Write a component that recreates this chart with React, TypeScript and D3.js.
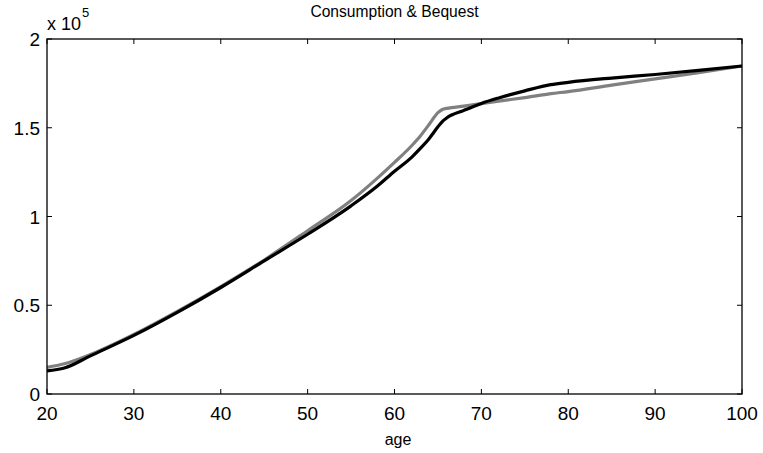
import React from "react";
import * as d3 from "d3";

const ages = [20, 22, 25, 30, 35, 40, 45, 50, 55, 58, 60, 62, 63, 64, 65, 65.5, 66, 68, 70, 72, 75, 78, 80, 85, 90, 95, 100];
const blackSeries = [13000, 14600, 21500, 33000, 46000, 60000, 75000, 90000, 106000, 117000, 125500, 133500, 138500, 144000, 150500, 153500, 155500, 159800, 163700, 166800, 170800, 174300, 175600, 178000, 180000, 182300, 184800];
const graySeries = [15000, 17000, 22200, 33500, 46500, 60500, 75500, 92000, 109000, 121500, 130500, 140000, 145500, 152000, 158500, 160300, 160900, 162200, 163600, 165000, 167000, 169200, 170400, 174000, 177500, 181000, 184800];
const xTicks = [20, 30, 40, 50, 60, 70, 80, 90, 100];
const yTicks = [0, 0.5, 1, 1.5, 2];
const yTickLabels = ["0", "0.5", "1", "1.5", "2"];

const W = 763, H = 453;
const L = 47, R = 742, T = 39, B = 394;
const FONT = "'Liberation Sans', Arial, Helvetica, sans-serif";

export default function App() {
  const x = d3.scaleLinear().domain([20, 100]).range([L, R]);
  const y = d3.scaleLinear().domain([0, 200000]).range([B, T]);
  const line = d3
    .line<number>()
    .x((_, i) => x(ages[i]))
    .y((d) => y(d))
    .curve(d3.curveMonotoneX);
  const tl = 5;
  return (
    <svg width={W} height={H} style={{ position: "absolute", left: 0, top: 0, background: "#fff" }}>
      <rect x={0} y={0} width={W} height={H} fill="#fff" />
      <path d={line(graySeries) || ""} fill="none" stroke="#808080" strokeWidth={3.2} strokeLinejoin="round" />
      <path d={line(blackSeries) || ""} fill="none" stroke="#000" strokeWidth={3.2} strokeLinejoin="round" />
      <rect x={L} y={T} width={R - L} height={B - T} fill="none" stroke="#000" strokeWidth={1.3} />
      {xTicks.map((t) => (
        <g key={"x" + t}>
          <line x1={x(t)} x2={x(t)} y1={B} y2={B - tl} stroke="#000" strokeWidth={1} />
          <line x1={x(t)} x2={x(t)} y1={T} y2={T + tl} stroke="#000" strokeWidth={1} />
          <text x={x(t)} y={420} textAnchor="middle" fontFamily={FONT} fontSize={19} fill="#000">
            {t}
          </text>
        </g>
      ))}
      {yTicks.map((t, i) => (
        <g key={"y" + t}>
          <line x1={L} x2={L + tl} y1={y(t * 1e5)} y2={y(t * 1e5)} stroke="#000" strokeWidth={1} />
          <line x1={R} x2={R - tl} y1={y(t * 1e5)} y2={y(t * 1e5)} stroke="#000" strokeWidth={1} />
          <text x={40} y={y(t * 1e5) + 7} textAnchor="end" fontFamily={FONT} fontSize={19} fill="#000">
            {yTickLabels[i]}
          </text>
        </g>
      ))}
      <text x={47} y={30} fontFamily={FONT} fontSize={18} fill="#000">
        x 10
        <tspan fontSize={13} dx={1} dy={-13}>5</tspan>
      </text>
      <text x={(L + R) / 2} y={17} textAnchor="middle" fontFamily={FONT} fontSize={15.6} fill="#000">
        Consumption &amp; Bequest
      </text>
      <text x={398} y={445} textAnchor="middle" fontFamily={FONT} fontSize={16} fill="#000">
        age
      </text>
    </svg>
  );
}
